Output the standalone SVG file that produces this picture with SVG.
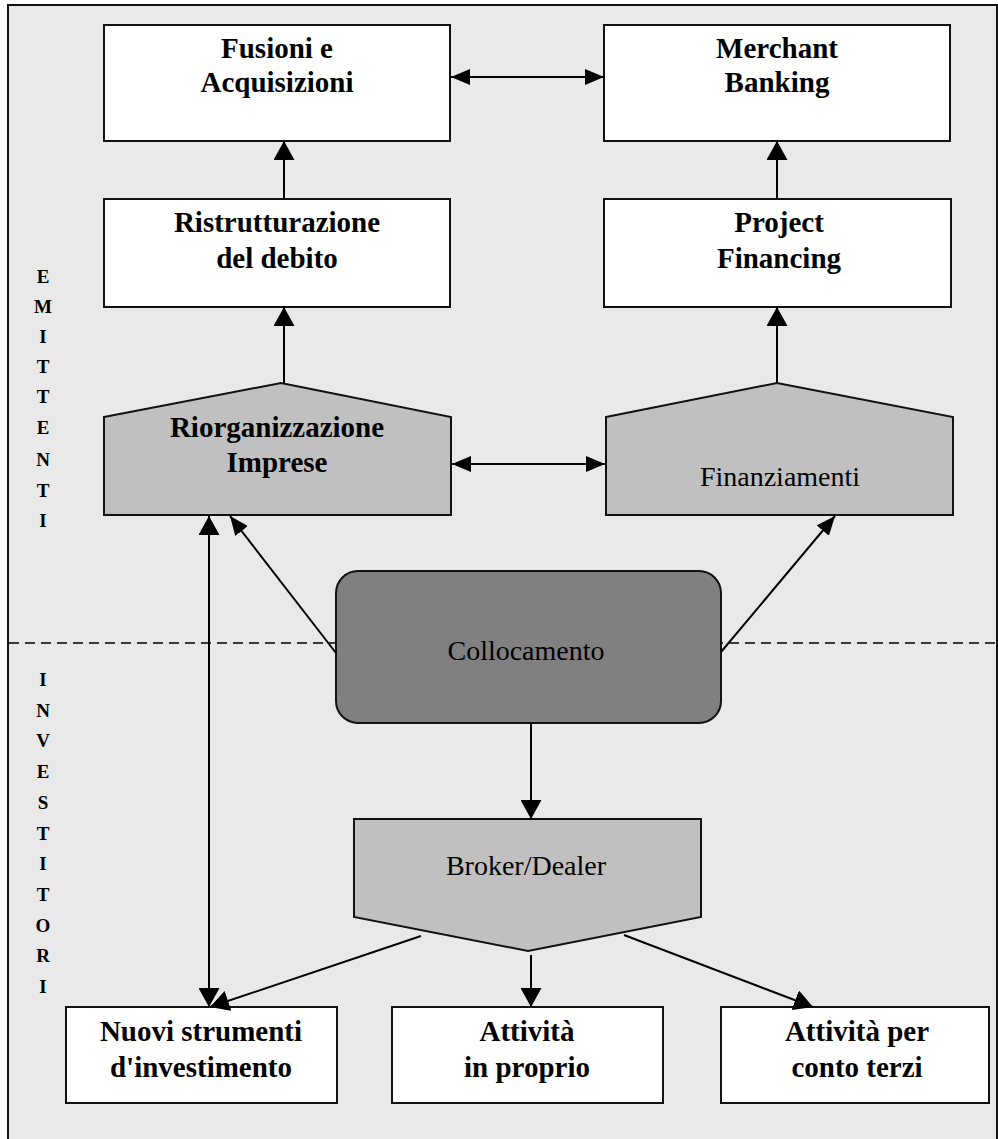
<svg xmlns="http://www.w3.org/2000/svg" width="998" height="1139" viewBox="0 0 998 1139">
<defs>
<style>
.bg{fill:#e9e9e9;stroke:#111;stroke-width:2}
.box{fill:#fff;stroke:#111;stroke-width:2}
.pent{fill:#c0c0c0;stroke:#111;stroke-width:2}
.dark{fill:#808080;stroke:#111;stroke-width:2}
.tb{font-family:"Liberation Serif","Times New Roman",serif;font-weight:bold;font-size:29px;fill:#000;text-anchor:middle}
.tr{font-family:"Liberation Serif","Times New Roman",serif;font-size:28px;fill:#000;text-anchor:middle}
.side{font-family:"Liberation Serif","Times New Roman",serif;font-weight:bold;font-size:19px;fill:#000;text-anchor:middle}
.ln{stroke:#000;stroke-width:2;fill:none}
.dash{stroke:#000;stroke-width:1.5;stroke-dasharray:10,6;fill:none}
</style>
<marker id="ah" markerUnits="userSpaceOnUse" viewBox="0 0 19 21" markerWidth="19" markerHeight="21" refX="19" refY="10.5" orient="auto-start-reverse"><path d="M0,0 L19,10.5 L0,21 z" fill="#000"/></marker>
<marker id="ah2" markerUnits="userSpaceOnUse" viewBox="0 0 19 16" markerWidth="19" markerHeight="16" refX="19" refY="8" orient="auto-start-reverse"><path d="M0,0 L19,8 L0,16 z" fill="#000"/></marker>
</defs>

<rect class="bg" x="8" y="5" width="989" height="1136"/>
<line class="dash" x1="9" y1="643" x2="997" y2="643"/>

<g id="labels-side">
<text class="side" x="43" y="283">E</text>
<text class="side" x="43" y="313">M</text>
<text class="side" x="43" y="343">I</text>
<text class="side" x="43" y="373">T</text>
<text class="side" x="43" y="403">T</text>
<text class="side" x="43" y="434">E</text>
<text class="side" x="43" y="466">N</text>
<text class="side" x="43" y="497">T</text>
<text class="side" x="43" y="527">I</text>
<text class="side" x="43" y="686">I</text>
<text class="side" x="43" y="717">N</text>
<text class="side" x="43" y="747">V</text>
<text class="side" x="43" y="778">E</text>
<text class="side" x="43" y="809">S</text>
<text class="side" x="43" y="840">T</text>
<text class="side" x="43" y="870">I</text>
<text class="side" x="43" y="901">T</text>
<text class="side" x="43" y="932">O</text>
<text class="side" x="43" y="962">R</text>
<text class="side" x="43" y="993">I</text>
</g>

<g id="fusioni">
<rect class="box" x="104" y="25" width="346" height="116"/>
<text class="tb" x="277" y="58">Fusioni e</text>
<text class="tb" x="277" y="92">Acquisizioni</text>
</g>
<g id="merchant">
<rect class="box" x="604" y="25" width="346" height="116"/>
<text class="tb" x="777" y="58">Merchant</text>
<text class="tb" x="777" y="92">Banking</text>
</g>
<g id="ristrutturazione">
<rect class="box" x="104" y="199" width="346" height="108"/>
<text class="tb" x="277" y="232">Ristrutturazione</text>
<text class="tb" x="277" y="268">del debito</text>
</g>
<g id="project">
<rect class="box" x="604" y="199" width="347" height="108"/>
<text class="tb" x="779" y="232">Project</text>
<text class="tb" x="779" y="268">Financing</text>
</g>
<g id="riorganizzazione">
<polygon class="pent" points="104,417 281,383 451,417 451,515 104,515"/>
<text class="tb" x="277" y="437">Riorganizzazione</text>
<text class="tb" x="277" y="472">Imprese</text>
</g>
<g id="finanziamenti">
<polygon class="pent" points="606,417 777,383 953,417 953,515 606,515"/>
<text class="tr" x="780" y="486">Finanziamenti</text>
</g>
<g id="collocamento">
<rect class="dark" x="336" y="571" width="385" height="152" rx="22" ry="22"/>
<text class="tr" x="526" y="660">Collocamento</text>
</g>
<g id="broker">
<polygon class="pent" points="354,819 701,819 701,917 528,951 354,917"/>
<text class="tr" x="526" y="875">Broker/Dealer</text>
</g>
<g id="nuovi">
<rect class="box" x="66" y="1007" width="271" height="96"/>
<text class="tb" x="201" y="1041">Nuovi strumenti</text>
<text class="tb" x="201" y="1077">d'investimento</text>
</g>
<g id="proprio">
<rect class="box" x="392" y="1007" width="271" height="96"/>
<text class="tb" x="527" y="1041">Attività</text>
<text class="tb" x="527" y="1077">in proprio</text>
</g>
<g id="terzi">
<rect class="box" x="721" y="1007" width="268" height="96"/>
<text class="tb" x="857" y="1041">Attività per</text>
<text class="tb" x="857" y="1077">conto terzi</text>
</g>

<g id="connectors">
<line class="ln" x1="284" y1="199" x2="284" y2="141" marker-end="url(#ah)"/>
<line class="ln" x1="777" y1="199" x2="777" y2="141" marker-end="url(#ah)"/>
<line class="ln" x1="451" y1="77" x2="604" y2="77" marker-start="url(#ah2)" marker-end="url(#ah2)"/>
<line class="ln" x1="284" y1="383" x2="284" y2="307" marker-end="url(#ah)"/>
<line class="ln" x1="777" y1="383" x2="777" y2="307" marker-end="url(#ah)"/>
<line class="ln" x1="452" y1="464" x2="605" y2="464" marker-start="url(#ah2)" marker-end="url(#ah2)"/>
<line class="ln" x1="336" y1="653" x2="230" y2="516" marker-end="url(#ah2)"/>
<line class="ln" x1="721" y1="652" x2="835" y2="516" marker-end="url(#ah2)"/>
<line class="ln" x1="209" y1="516" x2="209" y2="1007" marker-start="url(#ah)" marker-end="url(#ah)"/>
<line class="ln" x1="531" y1="723" x2="531" y2="819" marker-end="url(#ah)"/>
<line class="ln" x1="421" y1="936" x2="210" y2="1007" marker-end="url(#ah)"/>
<line class="ln" x1="531" y1="955" x2="531" y2="1007" marker-end="url(#ah)"/>
<line class="ln" x1="624" y1="935" x2="813" y2="1007" marker-end="url(#ah)"/>
</g>
</svg>
